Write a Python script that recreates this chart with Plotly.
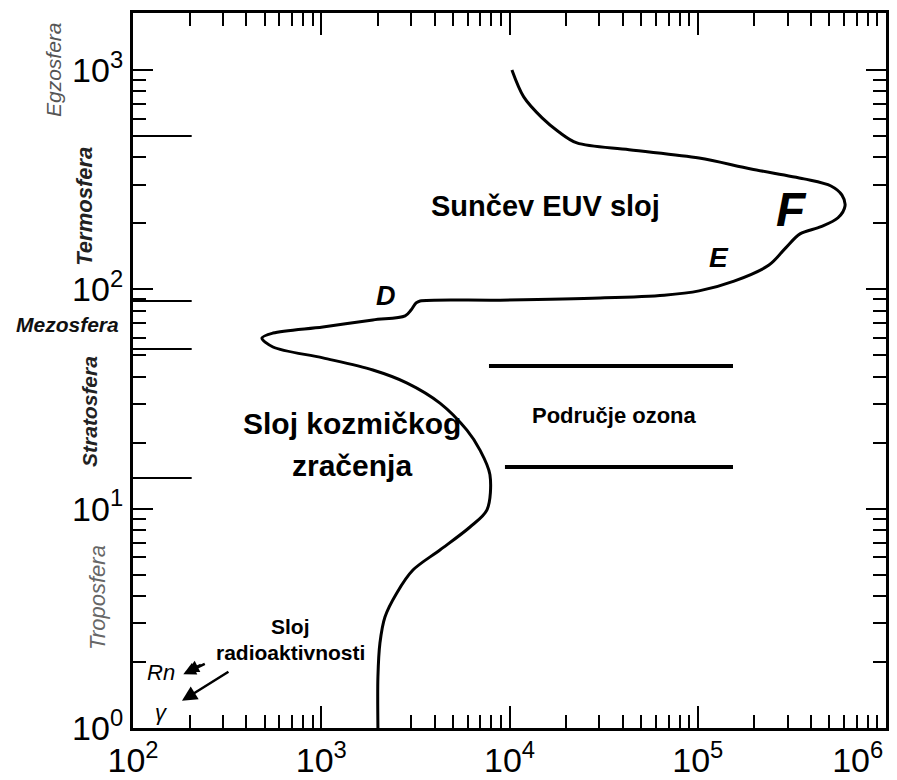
import numpy as np
import plotly.graph_objects as go

# krivulja: brzina ionizacije (x) prema visini u km (y)
visina = [1000, 754, 605, 522, 465, 433, 397, 354, 319, 296,
          269, 240, 212, 193, 179, 155, 129, 109, 98.4, 94.1,
          91.3, 89.3, 88.5, 86.7, 80.5, 75.7, 72.5, 67.4, 63.2, 60.0,
          54.6, 48.7, 42.9, 37.4, 30.3, 22.8, 18.5, 14.3, 9.87, 8.25,
          6.48, 5.25, 4.13, 3.21, 2.44, 1.71, 1.0]
ionizacija = [10300, 11900, 14900, 18300, 22800, 43200, 101600, 191900, 366800, 510300,
              583500, 605700, 555900, 451600, 349300, 294200, 239000, 155900, 101600, 66300,
              30300, 8910, 3350, 3190, 3000, 2790, 1880, 1020, 554, 484,
              554, 1020, 1880, 2860, 4270, 5940, 6970, 7870, 7590, 6170,
              4270, 3070, 2520, 2180, 2050, 2000, 2000]

# granice slojeva atmosfere (km)
granice = [500, 88.5, 53.5, 13.8]
granica_x = [100, 205]

# podrucje ozona
ozon_gore_x = [7780, 153900]
ozon_gore_y = 44.7
ozon_dolje_x = [9460, 153900]
ozon_dolje_y = 15.5

# slojevi (naziv, visina sredine teksta, pomak od osi u px, boja, tezina, kut, velicina)
slojevi = [("Egzosfera", 1000, -80, "#555555", "normal", -90, 21),
           ("Termosfera", 238, -48, "#222222", "bold", -90, 22),
           ("Mezosfera", 69, -66, "#111111", "bold", 0, 21),
           ("Stratosfera", 27.6, -43, "#222222", "bold", -90, 21),
           ("Troposfera", 3.92, -35, "#666666", "normal", -90, 22)]

x_tickvals = [1e2, 1e3, 1e4, 1e5, 1e6]
x_ticktext = ["10<sup>2</sup>", "10<sup>3</sup>", "10<sup>4</sup>", "10<sup>5</sup>",
              "10<sup>6</sup>" + "\u00a0" * 6]
y_tickvals = [1, 10, 100, 1000]
y_ticktext = ["10<sup>0</sup>", "10<sup>1</sup>", "10<sup>2</sup>", "10<sup>3</sup>"]

x_minor = [m * 10**d for d in range(2, 6) for m in range(2, 10)]
y_minor = [m * 10**d for d in range(0, 4) for m in range(2, 10)]

fig = go.Figure()

fig.add_trace(go.Scatter(x=ionizacija, y=visina, mode='lines',
                         line=dict(color='black', width=3, shape='spline', smoothing=0.9),
                         showlegend=False, hoverinfo='skip'))

for g in granice:
    fig.add_trace(go.Scatter(x=granica_x, y=[g, g], mode='lines',
                             line=dict(color='black', width=2),
                             showlegend=False, hoverinfo='skip'))

fig.add_trace(go.Scatter(x=ozon_gore_x, y=[ozon_gore_y]*2, mode='lines',
                         line=dict(color='black', width=4), showlegend=False, hoverinfo='skip'))
fig.add_trace(go.Scatter(x=ozon_dolje_x, y=[ozon_dolje_y]*2, mode='lines',
                         line=dict(color='black', width=4), showlegend=False, hoverinfo='skip'))

font_fam = "Liberation Sans, Arial, sans-serif"

def tekst(t, x, y, size, weight="bold", style="normal", color="black"):
    fig.add_annotation(x=np.log10(x), y=np.log10(y), xref='x', yref='y', text=t,
                       showarrow=False, xanchor='center', yanchor='middle',
                       font=dict(family=font_fam, size=size, color=color,
                                 weight=weight, style=style))

tekst("Sunčev EUV sloj", 15500, 240, 29)
tekst("F", 315000, 232, 48, style="italic")
tekst("E", 130000, 140, 28, style="italic")
tekst("D", 2200, 93, 27, style="italic")
tekst("Područje ozona", 36000, 26.7, 22)
tekst("Sloj kozmičkog", 1456, 24.5, 30)
tekst("zračenja", 1456, 15.8, 30)
tekst("Sloj", 690, 2.89, 21)
tekst("radioaktivnosti", 690, 2.2, 21)
tekst("Rn", 140, 1.80, 22, weight="normal", style="italic")
tekst("γ", 141, 1.18, 22, weight="normal", style="italic")

# strelice (Rn ima dvostruki vrh)
fig.add_annotation(x=np.log10(185), y=np.log10(1.76), xref='x', yref='y', text="",
                   showarrow=True, arrowhead=2, arrowsize=1, arrowwidth=2.5,
                   ax=23, ay=-11, arrowcolor='black')
fig.add_annotation(x=np.log10(192), y=np.log10(1.80), xref='x', yref='y', text="",
                   showarrow=True, arrowhead=2, arrowsize=1, arrowwidth=2.5,
                   ax=16, ay=-8, arrowcolor='black')
fig.add_annotation(x=np.log10(182), y=np.log10(1.33), xref='x', yref='y', text="",
                   showarrow=True, arrowhead=2, arrowsize=1.2, arrowwidth=2.5,
                   ax=48, ay=-30, arrowcolor='black')

for naziv, h, pomak, boja, tez, kut, vel in slojevi:
    fig.add_annotation(x=0, y=np.log10(h), xref='paper', yref='y', text=naziv,
                       showarrow=False, xanchor='center', yanchor='middle',
                       xshift=pomak, textangle=kut,
                       font=dict(family=font_fam, size=vel, color=boja,
                                 weight=tez, style='italic'))

tick_font = dict(family="Liberation Sans Narrow, Liberation Sans, Arial", size=34, color='black')

fig.update_xaxes(type='log', range=[2, 6], showgrid=False, zeroline=False,
                 showline=True, linecolor='black', linewidth=3, mirror='ticks',
                 ticks='inside', ticklen=22, tickwidth=2, tickcolor='black',
                 tickvals=x_tickvals, ticktext=x_ticktext, tickfont=tick_font,
                 ticklabeloverflow='allow', automargin=False,
                 minor=dict(tickvals=x_minor, ticks='inside', ticklen=13,
                            tickwidth=2, tickcolor='black', showgrid=False))
fig.update_yaxes(type='log', range=[0, 3.26], showgrid=False, zeroline=False,
                 showline=True, linecolor='black', linewidth=3, mirror='ticks',
                 ticks='inside', ticklen=20, tickwidth=2, tickcolor='black',
                 tickvals=y_tickvals, ticktext=y_ticktext, tickfont=tick_font,
                 automargin=False,
                 minor=dict(tickvals=y_minor, ticks='inside', ticklen=13,
                            tickwidth=2, tickcolor='black', showgrid=False))

# stranica ima 8 px ruba, pa je slika manja za toliko
fig.update_layout(width=889, height=772,
                  margin=dict(l=125, r=11, t=5, b=52),
                  plot_bgcolor='white', paper_bgcolor='white',
                  showlegend=False)

fig.write_html("out.html")
